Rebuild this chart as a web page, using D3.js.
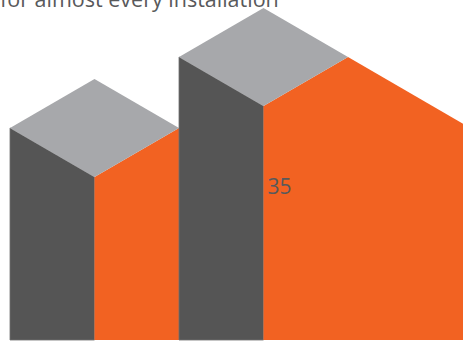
<!DOCTYPE html>
<html>
<head>
<meta charset="utf-8">
<script src="https://cdn.jsdelivr.net/npm/d3@7"></script>
<style>
  body { margin: 0; background: #fff; }
  svg { display: block; }
</style>
</head>
<body>
<div id="chart"></div>
<script>
// data
var categories = ["before", "after"];
var values = [26, 35];
var labels = ["", "35"];
var title = "for almost every installation";

var width = 463, height = 343;
var floorY = 340;      // bottom of visible bars
var depth = 49;        // isometric half-height of the top diamond

var colors = { left: "#555555", right: "#f26222", top: "#a7a8ab", edge: "#6e6e6e", text: "#58595b" };

var svg = d3.select("#chart").append("svg")
    .attr("width", width)
    .attr("height", height);

var x = d3.scaleBand()
    .domain(categories)
    .range([10, 348])
    .padding(0);

var y = d3.scaleLinear()
    .domain([0, 35])
    .range([333, 57]);

var line = d3.line();

var bars = svg.append("g").selectAll("g")
    .data(categories.map(function (c, i) { return { cat: c, value: values[i], label: labels[i] }; }))
    .enter().append("g");

bars.each(function (d) {
    var g = d3.select(this);
    var x0 = x(d.cat), x2 = x0 + x.bandwidth(), x1 = x0 + x.bandwidth() / 2;
    var yt = y(d.value);

    // left face
    g.append("path")
        .attr("d", line([[x0, yt], [x1, yt + depth], [x1, floorY], [x0, floorY]]) + "Z")
        .attr("fill", colors.left)
        .attr("stroke", colors.edge)
        .attr("stroke-width", 0.8);

    // right face
    g.append("path")
        .attr("d", line([[x1, yt + depth], [x2, yt], [x2, floorY], [x1, floorY]]) + "Z")
        .attr("fill", colors.right);

    // top
    g.append("path")
        .attr("d", line([[x0, yt], [x1, yt - depth], [x2, yt], [x1, yt + depth]]) + "Z")
        .attr("fill", colors.top);

    if (d.label) {
        g.append("text")
            .attr("x", x1 + 4)
            .attr("y", 194)
            .attr("font-family", "'Open Sans', sans-serif")
            .attr("font-size", 21)
            .attr("fill", colors.text)
            .text(d.label);
    }
});

// orange slope continuing down to the right edge from the last bar
var last = categories[categories.length - 1];
var lx = x(last) + x.bandwidth(), ly = y(values[values.length - 1]);
var slope = depth / (x.bandwidth() / 2);
svg.append("path")
    .attr("d", line([[lx, ly], [width, ly + (width - lx) * slope], [width, floorY], [lx, floorY]]) + "Z")
    .attr("fill", colors.right);

svg.append("text")
    .attr("x", 0)
    .attr("y", 7)
    .attr("font-family", "'Open Sans', sans-serif")
    .attr("font-size", 21.5)
    .attr("fill", colors.text)
    .text(title);
</script>
</body>
</html>
